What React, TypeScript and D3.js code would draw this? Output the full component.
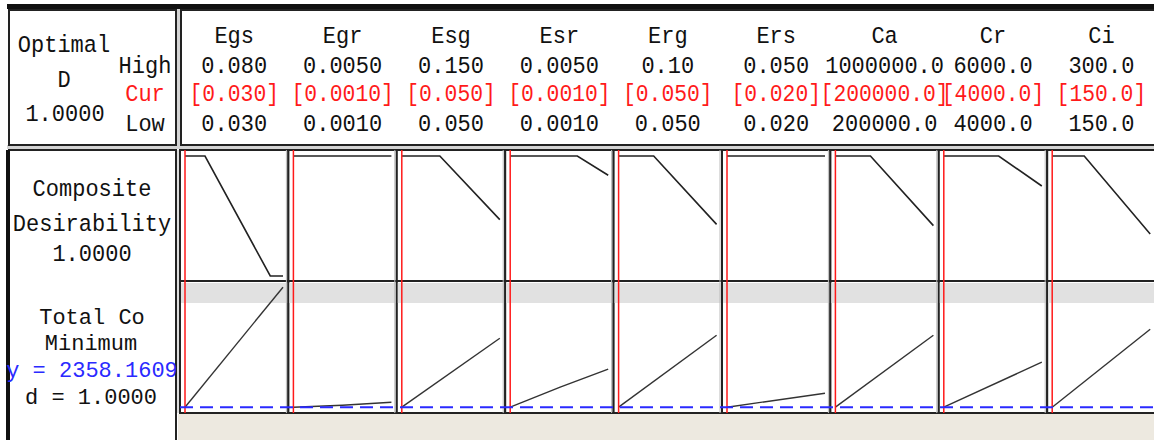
import React from "react";
import * as d3 from "d3";

const factors = ["Egs", "Egr", "Esg", "Esr", "Erg", "Ers", "Ca", "Cr", "Ci"];
const highLabels = ["0.080", "0.0050", "0.150", "0.0050", "0.10", "0.050", "1000000.0", "6000.0", "300.0"];
const curLabels = ["[0.030]", "[0.0010]", "[0.050]", "[0.0010]", "[0.050]", "[0.020]", "[200000.0]", "[4000.0]", "[150.0]"];
const lowLabels = ["0.030", "0.0010", "0.050", "0.0010", "0.050", "0.020", "200000.0", "4000.0", "150.0"];
const lowValues = [0.03, 0.001, 0.05, 0.001, 0.05, 0.02, 200000, 4000, 150];
const highValues = [0.08, 0.005, 0.15, 0.005, 0.1, 0.05, 1000000, 6000, 300];
const curValues = [0.03, 0.001, 0.05, 0.001, 0.05, 0.02, 200000, 4000, 150];

// composite desirability vs each factor: [factor value, d]
const desirability: [number, number][][] = [
  [[0.03, 1], [0.0402, 1], [0.0735, 0], [0.08, 0]],
  [[0.001, 1], [0.005, 1]],
  [[0.05, 1], [0.0888, 1], [0.15, 0.47]],
  [[0.001, 1], [0.00374, 1], [0.005, 0.84]],
  [[0.05, 1], [0.0679, 1], [0.1, 0.43]],
  [[0.02, 1], [0.05, 1]],
  [[200000, 1], [486000, 1], [1000000, 0.42]],
  [[4000, 1], [5120, 1], [6000, 0.75]],
  [[150, 1], [199, 1], [300, 0.35]],
];

// Total cost vs each factor: [factor value, cost]
const totalCost: [number, number][][] = [
  [[0.03, 2358.16], [0.08, 3558]],
  [[0.001, 2358.16], [0.003, 2378], [0.005, 2408]],
  [[0.05, 2358.16], [0.15, 3048]],
  [[0.001, 2358.16], [0.00304, 2558], [0.005, 2738]],
  [[0.05, 2358.16], [0.1, 3078]],
  [[0.02, 2358.16], [0.05, 2498]],
  [[200000, 2358.16], [1000000, 3078]],
  [[4000, 2358.16], [6000, 2808]],
  [[150, 2358.16], [300, 3138]],
];

const optimalD = "1.0000";
const responseName = "Total Co";
const goal = "Minimum";
const yValue = "y = 2358.1609";
const dValue = "d = 1.0000";
const yOpt = 2358.1609;

const FONT = "'Liberation Mono', 'DejaVu Sans Mono', monospace";

function T({ x, y, children, fill = "#111", fs = 24, cw = 13.2, sy = 1.02 }: any) {
  const sx = cw / (0.6 * fs);
  return (
    <text
      transform={`translate(${x},${y}) scale(${sx},${sy})`}
      textAnchor="middle"
      fontFamily={FONT}
      fontSize={fs}
      fill={fill}
    >
      {children}
    </text>
  );
}

export default function App() {
  const W = 1154;
  const H = 440;
  const colStart = 180;
  const colW = 108.4;
  const row2Top = 150;
  const row2Bot = 281;
  const row3Bot = 413;

  const colX = d3.range(factors.length).map((i) => colStart + i * colW);

  const dScale = d3.scaleLinear().domain([0, 1]).range([276, 156]);
  const costScale = d3.scaleLinear().domain([2300, 3600]).range([413, 283]);

  const red = "#ff1a1a";
  const blue = "#2a2aff";

  return (
    <svg width={W} height={H} style={{ position: "absolute", left: 0, top: 0, background: "#fff" }}>
      <rect x={0} y={0} width={W} height={H} fill="#fff" />
      {/* top bar */}
      <rect x={7} y={4} width={W} height={5} fill="#111" />
      {/* header separators */}
      <rect x={7} y={145} width={W} height={4} fill="#d4d4d4" />
      <rect x={176} y={9} width={4} height={140} fill="#d4d4d4" />
      {/* header boxes */}
      <rect x={9} y={10} width={167} height={135} fill="#fff" stroke="#222" strokeWidth={2} />
      <rect x={181} y={10} width={W} height={135} fill="#fff" stroke="#222" strokeWidth={2} />
      {/* beige bottom */}
      <rect x={178} y={414} width={W} height={H - 414} fill="#ede9e0" />
      {/* left label box */}
      <rect x={9} y={150} width={167} height={H} fill="#fff" stroke="#222" strokeWidth={2} />
      <rect x={6} y={150} width={4} height={H} fill="#111" />

      {/* plot cells */}
      {colX.map((b, i) => {
        const x = d3.scaleLinear().domain([lowValues[i], highValues[i]]).range([b + 5, b + 103]);
        const lineD = d3.line<[number, number]>().x((p) => x(p[0])).y((p) => dScale(p[1]));
        const lineC = d3.line<[number, number]>().x((p) => x(p[0])).y((p) => costScale(p[1]));
        return (
          <g key={i}>
            <rect x={b} y={row2Top} width={colW} height={row2Bot - row2Top} fill="#fff" stroke="#222" strokeWidth={2} />
            <rect x={b} y={row2Bot} width={colW} height={row3Bot - row2Bot} fill="#fff" stroke="#222" strokeWidth={2} />
            <rect x={b + 1} y={row2Bot + 2} width={colW - 2} height={20} fill="#e1e1e1" />
            <line x1={b - 2} x2={b - 2} y1={row2Top} y2={row3Bot} stroke="#bbb" strokeWidth={1} />
            <path d={lineD(desirability[i]) || ""} fill="none" stroke="#222" strokeWidth={1.6} />
            <path d={lineC(totalCost[i]) || ""} fill="none" stroke="#333" strokeWidth={1.4} />
            <line x1={x(curValues[i])} x2={x(curValues[i])} y1={row2Top} y2={row3Bot} stroke={red} strokeWidth={1.5} />
          </g>
        );
      })}
      {/* blue optimum line */}
      <line
        x1={colStart}
        x2={W}
        y1={costScale(yOpt)}
        y2={costScale(yOpt)}
        stroke={blue}
        strokeWidth={2}
        strokeDasharray="13,7"
      />

      {/* header text */}
      <T x={64} y={52}>Optimal</T>
      <T x={64} y={87}>D</T>
      <T x={65} y={121}>{optimalD}</T>
      <T x={145} y={73}>High</T>
      <T x={145} y={101} fill={red}>Cur</T>
      <T x={145} y={131}>Low</T>
      {factors.map((f, i) => {
        const cx = colX[i] + colW / 2;
        return (
          <g key={f}>
            <T x={cx} y={43}>{f}</T>
            <T x={cx} y={73}>{highLabels[i]}</T>
            <T x={cx} y={101} fill={red} cw={12.8}>{curLabels[i]}</T>
            <T x={cx} y={131}>{lowLabels[i]}</T>
          </g>
        );
      })}

      {/* row labels */}
      <T x={92} y={196}>Composite</T>
      <T x={92} y={231}>Desirability</T>
      <T x={92} y={261}>{optimalD}</T>
      <T x={92} y={324} fs={23} sy={1}>{responseName}</T>
      <T x={91} y={350} fs={23} sy={1}>{goal}</T>
      <T x={92} y={377} fs={23} sy={1} fill={blue}>{yValue}</T>
      <T x={91} y={404} fs={23} sy={1}>{dValue}</T>
    </svg>
  );
}
